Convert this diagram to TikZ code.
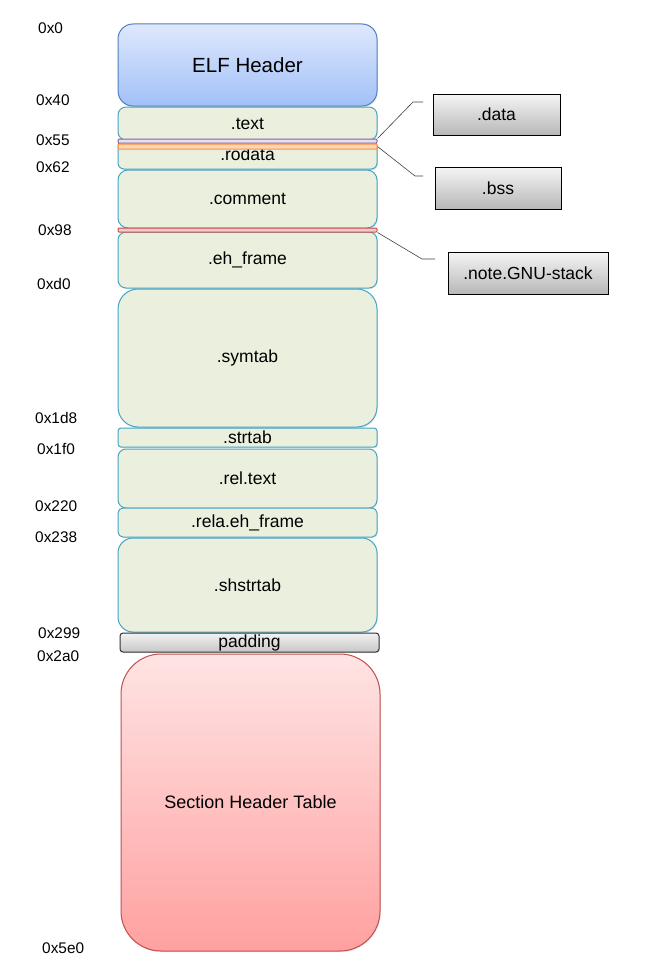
\documentclass[tikz,border=0pt]{standalone}
\usepackage{fontspec}
\setmainfont{Liberation Sans}
\usetikzlibrary{shadows}

\definecolor{secfill}{RGB}{235,239,222}
\definecolor{secline}{RGB}{70,165,195}
\definecolor{hdrtop}{RGB}{222,232,252}
\definecolor{hdrbot}{RGB}{162,192,248}
\definecolor{hdrline}{RGB}{79,129,189}
\definecolor{shttop}{RGB}{255,228,228}
\definecolor{shtbot}{RGB}{255,160,160}
\definecolor{shtline}{RGB}{192,80,77}
\definecolor{datafill}{RGB}{230,224,236}
\definecolor{dataline}{RGB}{128,100,162}
\definecolor{bssfill}{RGB}{252,213,181}
\definecolor{bssline}{RGB}{247,150,70}
\definecolor{notefill}{RGB}{248,200,200}
\definecolor{noteline}{RGB}{192,80,77}

\begin{document}
\begin{tikzpicture}[x=1pt,y=-1pt,
    sec/.style={draw=secline, line width=1pt, fill=secfill, rounded corners=8pt,
      minimum width=259pt, inner sep=0pt,
      drop shadow={opacity=0.2, shadow xshift=0.8pt, shadow yshift=-1.2pt},
      font=\fontsize{17.5}{20}\selectfont},
    hdr/.style={sec, draw=hdrline, top color=hdrtop, bottom color=hdrbot,
      rounded corners=15pt, font=\fontsize{20.5}{24}\selectfont},
    pad/.style={sec, draw=black!80, top color=black!5, bottom color=black!22, rounded corners=3pt},
    sht/.style={sec, draw=shtline, top color=shttop, bottom color=shtbot,
      rounded corners=40pt, font=\fontsize{18}{21}\selectfont},
    strip/.style={line width=1pt, minimum width=259pt, inner sep=0pt, rounded corners=1pt},
    part/.style={draw=black, line width=0.8pt, top color=black!4, bottom color=black!28,
      inner sep=0pt, drop shadow={opacity=0.3, shadow xshift=1.2pt, shadow yshift=-1.2pt},
      font=\fontsize{17.5}{20}\selectfont},
    addr/.style={anchor=west, inner sep=0pt, font=\fontsize{15.4}{18}\selectfont},
    callout/.style={draw=black!75, line width=0.6pt}]
  \useasboundingbox (0,0) rectangle (653,974);

  % sections of the file
  \node[hdr, minimum height=82pt] (elf) at (247.5,65) {ELF Header};
  \node[sec, minimum height=33pt] (text) at (247.5,123.5) {.text};
  \node[sec, minimum height=29pt, rounded corners=6pt] (rodata) at (247.5,154.5) {.rodata};
  \node[strip, draw=dataline, fill=datafill, minimum height=4pt] (datastrip) at (247.5,141) {};
  \node[strip, draw=bssline, fill=bssfill, minimum height=5pt] (bssstrip) at (247.5,146.5) {};
  \node[sec, minimum height=58pt, rounded corners=10pt] (comment) at (247.5,199) {.comment};
  \node[sec, minimum height=56pt] (ehframe) at (247.5,260) {.eh\_frame};
  \node[strip, draw=noteline, fill=notefill, minimum height=4pt] (notestrip) at (247.5,230) {};
  \node[sec, minimum height=138pt, rounded corners=20pt] (symtab) at (247.5,358) {.symtab};
  \node[sec, minimum height=19pt, rounded corners=3pt] (strtab) at (247.5,437.5) {.strtab};
  \node[sec, minimum height=59pt] (reltext) at (247.5,478.5) {.rel.text};
  \node[sec, minimum height=29pt, rounded corners=5pt] (relaeh) at (247.5,522.5) {.rela.eh\_frame};
  \node[sec, minimum height=94pt, rounded corners=15pt] (shstrtab) at (247.5,585) {.shstrtab};
  \node[pad, minimum height=19pt] (padding) at (249.5,642.5) {padding};
  \node[sht, minimum height=297pt] (shtab) at (250.5,802.5) {Section Header Table};

  % empty sections
  \node[part, minimum width=127pt, minimum height=41pt] (data) at (496.5,114.5) {.data};
  \node[part, minimum width=126pt, minimum height=42pt] (bss) at (498,188) {.bss};
  \node[part, minimum width=160pt, minimum height=42pt] (note) at (528,273) {.note.GNU-stack};

  \coordinate (dataknee) at (413,102);
  \coordinate (dataend) at (423,102);
  \coordinate (bssknee) at (415,176);
  \coordinate (bssend) at (423,176);
  \coordinate (noteknee) at (422,259);
  \coordinate (noteend) at (435,259);
  \draw[callout] (datastrip.north east) -- (dataknee) -- (dataend);
  \draw[callout] (bssstrip.east) -- (bssknee) -- (bssend);
  \draw[callout] (notestrip.south east) -- (noteknee) -- (noteend);

  % offsets
  \node[addr] (a0) at (38,28) {0x0};
  \node[addr] (a40) at (36,100) {0x40};
  \node[addr] (a55) at (36,140) {0x55};
  \node[addr] (a62) at (36,167) {0x62};
  \node[addr] (a98) at (38,230) {0x98};
  \node[addr] (ad0) at (37,284) {0xd0};
  \node[addr] (a1d8) at (35,418) {0x1d8};
  \node[addr] (a1f0) at (37,449) {0x1f0};
  \node[addr] (a220) at (35,506) {0x220};
  \node[addr] (a238) at (35,537) {0x238};
  \node[addr] (a299) at (38,633) {0x299};
  \node[addr] (a2a0) at (37,656) {0x2a0};
  \node[addr] (a5e0) at (42,948) {0x5e0};
\end{tikzpicture}
\end{document}
